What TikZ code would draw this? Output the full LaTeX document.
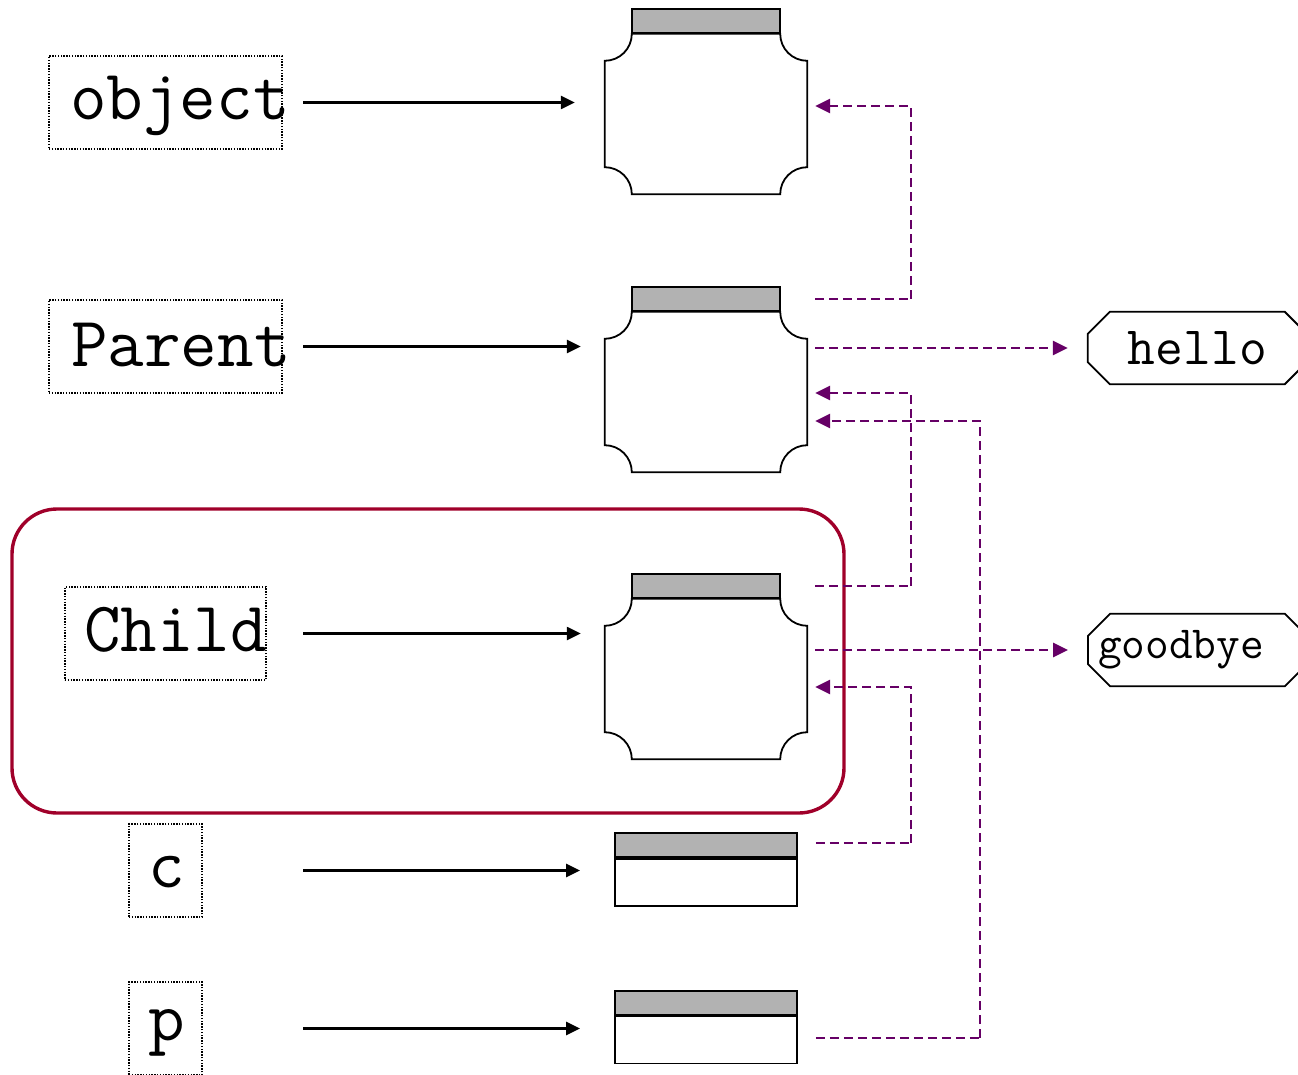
\documentclass[tikz,border=0pt]{standalone}
\usetikzlibrary{arrows.meta,calc,positioning}

\definecolor{refpurple}{RGB}{102,0,102}
\definecolor{scopered}{RGB}{160,0,42}
\definecolor{headgray}{RGB}{178,178,178}

\tikzset{
  lblbox/.style={draw, line width=1.2pt, dash pattern=on 1.4pt off 1.4pt, inner sep=0pt},
  lbltext/.style={font=\ttfamily\fontsize{71}{71}\selectfont, inner sep=0pt},
  clsbody/.style={minimum width=202, minimum height=160, inner sep=0pt},
  clshead/.style={draw, line width=1.8pt, fill=headgray, minimum width=148, minimum height=24, inner sep=0pt},
  objbody/.style={draw, line width=1.8pt, minimum width=182, minimum height=47, inner sep=0pt},
  objhead/.style={draw, line width=1.8pt, fill=headgray, minimum width=182, minimum height=24, inner sep=0pt},
  clsline/.style={line width=1.8pt},
  valtext/.style={font=\ttfamily, minimum height=72, inner ysep=0pt},
  valline/.style={line width=1.8pt},
  scopebox/.style={draw=scopered, line width=3.4pt, rounded corners=45pt, minimum width=832, minimum height=304},
  ptr/.style={line width=2.4pt, -{Triangle[length=14pt,width=13pt]}},
  inh/.style={refpurple, line width=2.8pt, dash pattern=on 9pt off 5pt, -{Triangle[length=15pt,width=14pt]}},
  inhline/.style={refpurple, line width=2.2pt, dash pattern=on 9pt off 5pt}
}

% class outline with scooped corners
\newcommand{\clsshape}[1]{%
  \draw[clsline] ($(#1.north west)+(27,0)$) arc[start angle=0, end angle=-90, radius=27pt]
    -- ($(#1.south west)+(0,-27)$) arc[start angle=90, end angle=0, radius=27pt]
    -- ($(#1.south east)+(-27,0)$) arc[start angle=180, end angle=90, radius=27pt]
    -- ($(#1.north east)+(0,27)$) arc[start angle=-90, end angle=-180, radius=27pt]
    -- cycle;}

% octagon round a value, drawn from its west side
\newcommand{\valshape}[1]{%
  \draw[valline] ($(#1.north west)+(22,0)$) -- ($(#1.north west)+(197,0)$)
    -- ($(#1.north west)+(219,22)$) -- ($(#1.south west)+(219,-22)$)
    -- ($(#1.south west)+(197,0)$) -- ($(#1.south west)+(22,0)$)
    -- ($(#1.south west)+(0,-22)$) -- ($(#1.north west)+(0,22)$) -- cycle;}

\begin{document}
\begin{tikzpicture}[x=1pt, y=-1pt]
  \useasboundingbox (0,0) rectangle (1298,1075);

  % scope of Child
  \node[scopebox] (childscope) at (428,661) {};

  % names
  \node[lblbox, minimum width=233, minimum height=93] (objbox) at (165.5,102.5) {};
  \node[lbltext, anchor=base west] (objlbl) at (70,120) {object};
  \node[lblbox, minimum width=233, minimum height=93] (parbox) at (165.5,346.5) {};
  \node[lbltext, anchor=base west] (parlbl) at (71,366) {Parent};
  \node[lblbox, minimum width=201, minimum height=93] (chibox) at (165.5,633.5) {};
  \node[lbltext, anchor=base west] (chilbl) at (84,651) {Child};
  \node[lblbox, minimum width=73, minimum height=93] (cbox) at (165.5,870.5) {};
  \node[lbltext, anchor=base west] (clbl) at (148,887) {c};
  \node[lblbox, minimum width=73, minimum height=93] (pbox) at (165.5,1028.5) {};
  \node[lbltext, anchor=base west] (plbl) at (148,1040) {p};

  % class objects
  \node[clsbody] (objcls) at (706,114) {};
  \node[clshead, above=0pt of objcls] (objhead) {};
  \clsshape{objcls}
  \node[clsbody] (parcls) at (706,392) {};
  \node[clshead, above=0pt of parcls] (parhead) {};
  \clsshape{parcls}
  \node[clsbody] (chicls) at (706,679) {};
  \node[clshead, above=0pt of chicls] (chihead) {};
  \clsshape{chicls}

  % instances
  \node[objbody] (ccls) at (706,882.5) {};
  \node[objhead, above=0pt of ccls] (chead) {};
  \node[objbody] (pcls) at (706,1040) {};
  \node[objhead, above=0pt of pcls] (phead) {};

  % values
  \node[valtext, font=\ttfamily\fontsize{54}{54}\selectfont, minimum width=219] (hello) at (1197.5,348) {hello};
  \valshape{hello}
  \node[valtext, font=\ttfamily\fontsize{46}{46}\selectfont, anchor=west, inner xsep=10pt] (bye) at (1088,650) {goodbye};
  \valshape{bye}

  % names refer to objects
  \coordinate (src) at (303,0);
  \draw[ptr, shorten >=30pt] (objbox -| src) -- (objbox -| objcls.west);
  \draw[ptr, shorten >=24pt] (parbox -| src) -- (parbox -| parcls.west);
  \draw[ptr, shorten >=24pt] (chibox -| src) -- (chibox -| chicls.west);
  \draw[ptr, shorten >=34pt] (cbox -| src) -- (cbox -| ccls.west);
  \draw[ptr, shorten >=34pt] (pbox -| src) -- (pbox -| pcls.west);

  % class and attribute links
  \coordinate (busA) at (911,0);
  \coordinate (busB) at (980,0);
  \draw[inhline] ($(parhead -| parcls.east)+(8,0)$) coordinate (s1) -- (s1 -| busA);
  \draw[inh] (s1 -| busA) |- ($(objcls.east)+(8,-8)$);
  \draw[inh, shorten >=20pt] ($(parcls.east |- hello.west)+(8,0)$) -- (hello.west);
  \draw[inhline] ($(chihead -| chicls.east)+(8,0)$) coordinate (s3) -- (s3 -| busA);
  \draw[inh] (s3 -| busA) |- ($(parcls.east)+(8,1)$);
  \draw[inhline] ($(pcls.east)+(18,-2)$) coordinate (s4) -- (s4 -| busB);
  \draw[inh] (s4 -| busB) |- ($(parcls.east)+(8,29)$);
  \draw[inh, shorten >=20pt] ($(chicls.east |- bye.west)+(8,0)$) -- (bye.west);
  \draw[inhline] ($(chead -| ccls.east)+(18,-2)$) coordinate (s6) -- (s6 -| busA);
  \draw[inh] (s6 -| busA) |- ($(chicls.east)+(8,8)$);
\end{tikzpicture}
\end{document}
